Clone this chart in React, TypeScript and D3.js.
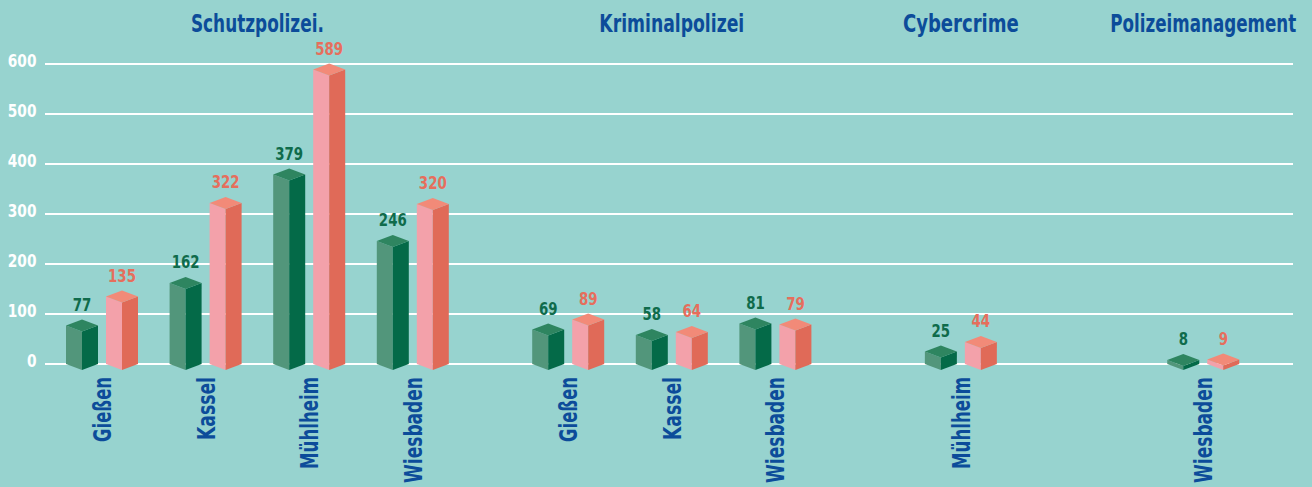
import React, { useLayoutEffect, useRef, useState } from "react";
import * as d3 from "d3";

// ---- data ----
const groups = ["Schutzpolizei.", "Kriminalpolizei", "Cybercrime", "Polizeimanagement"];
const categories = ["Gießen", "Kassel", "Mühlheim", "Wiesbaden", "Gießen", "Kassel", "Wiesbaden", "Mühlheim", "Wiesbaden"];
const categoryGroup = [0, 0, 0, 0, 1, 1, 1, 2, 3];
const seriesGreen = [77, 162, 379, 246, 69, 58, 81, 25, 8];
const seriesPink = [135, 322, 589, 320, 89, 64, 79, 44, 9];
const yTicks = [0, 100, 200, 300, 400, 500, 600];

// ---- layout ----
const W = 1312;
const H = 487;
const groupExtraGap = [0, 0.5, 0.79, 1.34];
const BAR_HALF = 16;
const DEPTH = 6;
const PAIR_OFFSET = 40;

const COLORS = {
  bg: "#97D3CF",
  grid: "#FFFFFF",
  greenFront: "#52967B",
  greenSide: "#046A48",
  greenTop: "#2E8560",
  pinkFront: "#F3A1AA",
  pinkSide: "#E06A58",
  pinkTop: "#F28A78",
  greenText: "#0F6B4B",
  pinkText: "#E66E5C",
  blue: "#0C4C9A",
};

const NARROW = "'Liberation Sans Narrow', 'Arial Narrow', 'DejaVu Sans Condensed', sans-serif";

// approximate text widths in the reference (px)
const titleWidths = [133, 145, 116, 186];
const labelWidth: Record<string, number> = { "Gießen": 65, "Kassel": 63, "Mühlheim": 92, "Wiesbaden": 106 };
const VALUE_DIGIT_W = 9.3;
const TICK_DIGIT_W = 9.6;

function slotOf(i: number) {
  const g = categoryGroup[i];
  let extra = 0;
  for (let k = 0; k <= g; k++) extra += groupExtraGap[k];
  return i + extra;
}

const x = d3.scaleLinear().domain([0, 1]).range([82, 82 + 103.6]);
const y = d3.scaleLinear().domain([0, 600]).range([364, 64]);

function FitText({
  text, x0, y0, rotate, anchor, width, fontSize, fill, fontFamily,
}: {
  text: string; x0: number; y0: number; rotate: number; anchor: "start" | "middle" | "end";
  width: number; fontSize: number; fill: string; fontFamily: string;
}) {
  const ref = useRef<SVGTextElement>(null);
  const [sx, setSx] = useState(1);
  useLayoutEffect(() => {
    if (ref.current) {
      const n = ref.current.getComputedTextLength();
      if (n > 0) setSx(width / n);
    }
  }, [text, width]);
  return (
    <g transform={`translate(${x0},${y0}) rotate(${rotate}) scale(${sx},1)`}>
      <text
        ref={ref}
        textAnchor={anchor}
        fill={fill}
        fontFamily={fontFamily}
        fontWeight="bold"
        fontSize={fontSize}
      >
        {text}
      </text>
    </g>
  );
}

function Bar({ cx, value, front, side, top }: { cx: number; value: number; front: string; side: string; top: string }) {
  const yt = y(value);
  const yb = y(0);
  const l = cx - BAR_HALF;
  const r = cx + BAR_HALF;
  const frontPath = d3.path();
  frontPath.moveTo(l, yt);
  frontPath.lineTo(cx, yt + DEPTH);
  frontPath.lineTo(cx, yb + DEPTH);
  frontPath.lineTo(l, yb);
  frontPath.closePath();
  const sidePath = d3.path();
  sidePath.moveTo(cx, yt + DEPTH);
  sidePath.lineTo(r, yt);
  sidePath.lineTo(r, yb);
  sidePath.lineTo(cx, yb + DEPTH);
  sidePath.closePath();
  const topPath = d3.path();
  topPath.moveTo(l, yt);
  topPath.lineTo(cx, yt - DEPTH);
  topPath.lineTo(r, yt);
  topPath.lineTo(cx, yt + DEPTH);
  topPath.closePath();
  return (
    <g>
      <path d={frontPath.toString()} fill={front} />
      <path d={sidePath.toString()} fill={side} />
      <path d={topPath.toString()} fill={top} />
    </g>
  );
}

export default function App() {
  const cxs = categories.map((_, i) => x(slotOf(i)));
  const groupCenters = groups.map((_, g) => {
    const idx = categories.map((_, i) => i).filter((i) => categoryGroup[i] === g);
    const xs = idx.map((i) => cxs[i]);
    return ((d3.min(xs) as number) + (d3.max(xs) as number) + PAIR_OFFSET) / 2;
  });

  return (
    <svg
      width={W}
      height={H}
      style={{ position: "absolute", left: 0, top: 0, display: "block" }}
    >
      <rect x={0} y={0} width={W} height={H} fill={COLORS.bg} />

      {/* gridlines + tick labels */}
      {yTicks.map((t) => (
        <g key={t}>
          <line x1={45} x2={1293} y1={y(t)} y2={y(t)} stroke={COLORS.grid} strokeWidth={2} />
          <FitText
            text={String(t)}
            x0={36.5}
            y0={y(t) + 2.8}
            rotate={0}
            anchor="end"
            width={String(t).length * TICK_DIGIT_W}
            fontSize={18}
            fill="#FFFFFF"
            fontFamily={NARROW}
          />
        </g>
      ))}

      {/* group titles */}
      {groups.map((g, i) => (
        <FitText
          key={g}
          text={g}
          x0={groupCenters[i]}
          y0={31.5}
          rotate={0}
          anchor="middle"
          width={titleWidths[i]}
          fontSize={25}
          fill={COLORS.blue}
          fontFamily={NARROW}
        />
      ))}

      {/* bars */}
      {categories.map((c, i) => {
        const gx = cxs[i];
        const px = gx + PAIR_OFFSET;
        const gs = String(seriesGreen[i]);
        const ps = String(seriesPink[i]);
        return (
          <g key={i}>
            <Bar cx={gx} value={seriesGreen[i]} front={COLORS.greenFront} side={COLORS.greenSide} top={COLORS.greenTop} />
            <Bar cx={px} value={seriesPink[i]} front={COLORS.pinkFront} side={COLORS.pinkSide} top={COLORS.pinkTop} />
            <FitText
              text={gs}
              x0={gx}
              y0={y(seriesGreen[i]) - 15}
              rotate={0}
              anchor="middle"
              width={gs.length * VALUE_DIGIT_W}
              fontSize={17}
              fill={COLORS.greenText}
              fontFamily={NARROW}
            />
            <FitText
              text={ps}
              x0={px}
              y0={y(seriesPink[i]) - 15}
              rotate={0}
              anchor="middle"
              width={ps.length * VALUE_DIGIT_W}
              fontSize={17}
              fill={COLORS.pinkText}
              fontFamily={NARROW}
            />
            <FitText
              text={c}
              x0={gx + PAIR_OFFSET / 2 + 9}
              y0={377}
              rotate={-90}
              anchor="end"
              width={labelWidth[c]}
              fontSize={25}
              fill={COLORS.blue}
              fontFamily={NARROW}
            />
          </g>
        );
      })}
    </svg>
  );
}
